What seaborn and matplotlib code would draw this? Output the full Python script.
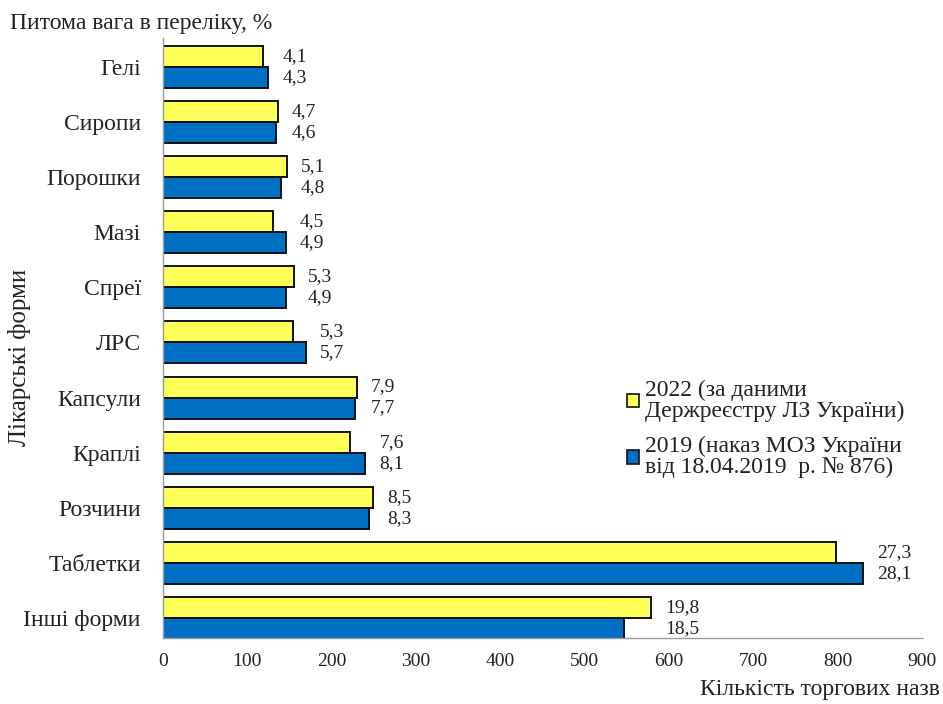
import numpy as np
import pandas as pd
import matplotlib
matplotlib.use("Agg")
import matplotlib.pyplot as plt
import seaborn as sns

# Dosage forms (top to bottom)
forms = ["Гелі", "Сиропи", "Порошки", "Мазі", "Спреї", "ЛРС", "Капсули",
         "Краплі", "Розчини", "Таблетки", "Інші форми"]

# Number of trade names per dosage form
count_2022 = [119, 136, 147, 131, 155, 154, 230, 222, 249, 798, 579]
count_2019 = [125, 134, 140, 146, 146, 170, 228, 240, 244, 830, 547]

# Share in the list, %
share_2022 = ["4,1", "4,7", "5,1", "4,5", "5,3", "5,3", "7,9", "7,6", "8,5", "27,3", "19,8"]
share_2019 = ["4,3", "4,6", "4,8", "4,9", "4,9", "5,7", "7,7", "8,1", "8,3", "28,1", "18,5"]

series = ["2022 (за даними\nДержреєстру ЛЗ України)",
          "2019 (наказ МОЗ України\nвід 18.04.2019  р. № 876)"]

x_ticks = [0, 100, 200, 300, 400, 500, 600, 700, 800, 900]

colors = ["#FFFF59", "#0070C4"]

df = pd.DataFrame({
    "form": forms * 2,
    "count": count_2022 + count_2019,
    "source": [series[0]] * len(forms) + [series[1]] * len(forms),
})

sns.set_style("white")
plt.rcParams["font.family"] = ["Liberation Serif", "DejaVu Serif"]

fig = plt.figure(figsize=(9.43, 7.04), dpi=100)
ax = fig.add_axes([163 / 943, 1 - 638 / 704, (922 - 163) / 943, (638 - 38) / 704])

sns.barplot(data=df, y="form", x="count", hue="source", orient="h",
            order=forms, hue_order=series, palette=colors, saturation=1,
            edgecolor="#111111", linewidth=1.4, width=0.76, ax=ax, legend=True)

ax.set_xlim(0, 900)
ax.set_ylim(len(forms) - 0.64, -0.52)
ax.set_xticks(x_ticks)
ax.tick_params(axis="x", labelsize=14, length=5, color="#999999", direction="out",
               labelcolor="#222222", pad=6)
ax.tick_params(axis="y", labelsize=17, length=0, labelcolor="#222222", pad=16)
for side in ["top", "right"]:
    ax.spines[side].set_visible(False)
for side in ["left", "bottom"]:
    ax.spines[side].set_color("#9a9a9a")
    ax.spines[side].set_linewidth(1.0)
ax.set_xlabel("")
ax.set_ylabel("")

# Share labels next to each pair of bars
bars_2022 = ax.containers[0]
bars_2019 = ax.containers[1]
for i in range(len(forms)):
    p1, p2 = bars_2022[i], bars_2019[i]
    xmax = max(count_2022[i], count_2019[i])
    for p, lab in ((p1, share_2022[i]), (p2, share_2019[i])):
        yc = p.get_y() + p.get_height() / 2
        ax.annotate(lab, xy=(xmax, yc), xytext=(10, 0), textcoords="offset points",
                    ha="left", va="center", fontsize=14, color="#222222")

# Legend
ax.legend_.remove()
handles = [plt.Rectangle((0, 0), 1, 1, facecolor=c, edgecolor="#111111", linewidth=1.2)
           for c in colors]
leg = fig.legend(handles, series, loc="upper left",
                 bbox_to_anchor=(618 / 943, 1 - 370 / 704),
                 frameon=False, fontsize=17, handlelength=0.5, handleheight=0.5,
                 handletextpad=0.25, labelspacing=0.6, borderaxespad=0)
for t in leg.get_texts():
    t.set_linespacing(1.0)
    t.set_color("#222222")

fig.text(10 / 943, 1 - 23 / 704, "Питома вага в переліку, %", fontsize=17,
         ha="left", va="center", color="#222222")
fig.text(20 / 943, 1 - 357 / 704, "Лікарські форми", fontsize=18, rotation=90,
         ha="center", va="center", color="#222222")
fig.text(940 / 943, 1 - 690 / 704, "Кількість торгових назв", fontsize=17,
         ha="right", va="center", color="#222222")

fig.savefig("out.png", dpi=100, facecolor="white")
